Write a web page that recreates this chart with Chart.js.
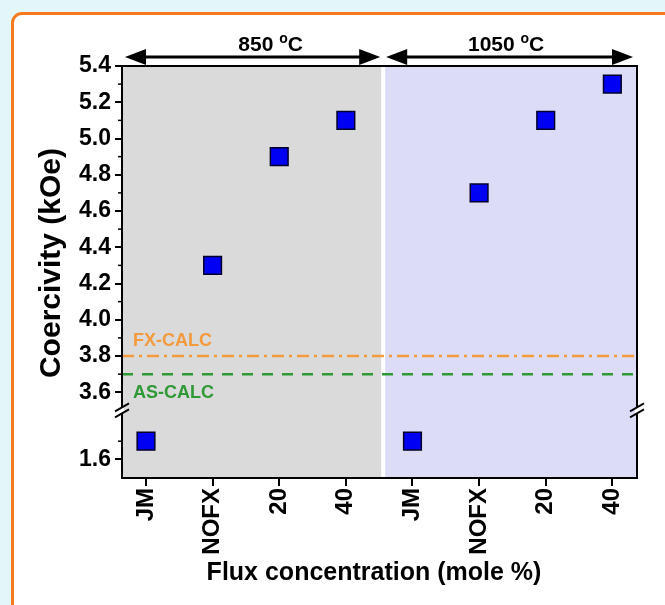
<!DOCTYPE html>
<html>
<head>
<meta charset="utf-8">
<script src="https://cdn.jsdelivr.net/npm/chart.js@4.4.1/dist/chart.umd.min.js"></script>
<style>
  html, body { margin: 0; padding: 0; overflow: hidden; }
  body { width: 665px; height: 605px; background: #e3f6fa; position: relative; }
  .card {
    position: absolute; left: 11px; top: 12px; width: 720px; height: 720px;
    background: #fff; border: 3px solid #f57b1e; border-radius: 11px;
  }
  #chart { position: absolute; left: 0; top: 0; }
</style>
</head>
<body>
<div class="card"></div>
<canvas id="chart" width="665" height="605"></canvas>
<script>
// Coercivity vs flux concentration, two calcination temperatures
const categories = ['JM', 'NOFX', '20', '40', 'JM', 'NOFX', '20', '40'];
const coercivity850 = [1.7, 4.3, 4.9, 5.1];
const coercivity1050 = [1.7, 4.7, 5.1, 5.3];
const yTickValues = [1.6, 3.6, 3.8, 4.0, 4.2, 4.4, 4.6, 4.8, 5.0, 5.2, 5.4];
const yMinorValues = [1.7, 3.7, 3.9, 4.1, 4.3, 4.5, 4.7, 4.9, 5.1, 5.3];
const fxCalc = 3.8;
const asCalc = 3.7;
const groupLabels = ['850', '1050'];

// broken axis: everything below the break is shifted up
const BREAK_AT = 3.5;
const BREAK_SHIFT = 1.63;
const toAxis = v => v < BREAK_AT ? v + BREAK_SHIFT : v;
const fromAxis = v => v < BREAK_AT ? v - BREAK_SHIFT : v;

const X_MIN = -0.36, X_MAX = 7.37, X_SPLIT = 3.56;
const FONT = '"Liberation Sans", Arial, sans-serif';

const points = coercivity850.concat(coercivity1050).map((v, i) => ({ x: i, y: toAxis(v) }));

const decorations = {
  id: 'decorations',
  beforeDraw(chart) {
    const { ctx, chartArea: a, scales: { x } } = chart;
    const split = x.getPixelForValue(X_SPLIT);
    ctx.save();
    ctx.fillStyle = '#dadada';
    ctx.fillRect(a.left, a.top, split - a.left, a.bottom - a.top);
    ctx.fillStyle = '#dcdcf7';
    ctx.fillRect(split, a.top, a.right - split, a.bottom - a.top);
    ctx.fillStyle = '#ffffff';
    ctx.fillRect(split - 2, a.top, 4, a.bottom - a.top);
    ctx.restore();
  },
  afterDraw(chart) {
    const { ctx, chartArea: a, scales: { x, y } } = chart;
    ctx.save();
    // frame
    ctx.strokeStyle = '#000';
    ctx.lineWidth = 2;
    ctx.strokeRect(a.left, a.top, a.right - a.left, a.bottom - a.top);

    // minor ticks on the left axis
    ctx.lineWidth = 1.5;
    yMinorValues.forEach(v => {
      const py = y.getPixelForValue(toAxis(v));
      ctx.beginPath();
      ctx.moveTo(a.left - 4, py);
      ctx.lineTo(a.left, py);
      ctx.stroke();
    });

    // axis break marks
    const by = y.getPixelForValue(BREAK_AT);
    [a.left, a.right].forEach(bx => {
      ctx.fillStyle = '#fff';
      ctx.fillRect(bx - 2, by - 3, 4, 6);
      ctx.strokeStyle = '#000';
      ctx.lineWidth = 1.8;
      [-3, 3].forEach(d => {
        ctx.beginPath();
        ctx.moveTo(bx - 7, by + d + 4);
        ctx.lineTo(bx + 7, by + d - 4);
        ctx.stroke();
      });
    });

    // temperature arrows
    const split = x.getPixelForValue(X_SPLIT);
    const arrowY = a.top - 9;
    const arrow = (x1, x2) => {
      ctx.strokeStyle = '#000';
      ctx.fillStyle = '#000';
      ctx.lineWidth = 3;
      ctx.beginPath();
      ctx.moveTo(x1 + 12, arrowY);
      ctx.lineTo(x2 - 12, arrowY);
      ctx.stroke();
      [[x1, 1], [x2, -1]].forEach(([px, dir]) => {
        ctx.beginPath();
        ctx.moveTo(px, arrowY);
        ctx.lineTo(px + dir * 21, arrowY - 8);
        ctx.lineTo(px + dir * 21, arrowY + 8);
        ctx.closePath();
        ctx.fill();
      });
    };
    arrow(a.left + 3, split - 3);
    arrow(split + 3, a.right - 4);

    const tempLabel = (txt, cx) => {
      ctx.fillStyle = '#000';
      ctx.textBaseline = 'alphabetic';
      ctx.textAlign = 'left';
      const big = 'bold 21px ' + FONT, small = 'bold 14px ' + FONT;
      ctx.font = big;
      const w1 = ctx.measureText(txt + ' ').width, w3 = ctx.measureText('C').width;
      ctx.font = small;
      const w2 = ctx.measureText('o').width;
      let sx = cx - (w1 + w2 + w3) / 2;
      const base = a.top - 15;
      ctx.font = big; ctx.fillText(txt + ' ', sx, base); sx += w1;
      ctx.font = small; ctx.fillText('o', sx, base - 8); sx += w2;
      ctx.font = big; ctx.fillText('C', sx, base);
    };
    tempLabel(groupLabels[0], (a.left + split) / 2 + 18);
    tempLabel(groupLabels[1], (split + a.right) / 2 - 4);

    // reference line labels
    ctx.font = 'bold 18px ' + FONT;
    ctx.textAlign = 'left';
    ctx.textBaseline = 'middle';
    ctx.fillStyle = '#f39a3c';
    ctx.fillText('FX-CALC', a.left + 11, y.getPixelForValue(fxCalc) - 15);
    ctx.fillStyle = '#2f9a35';
    ctx.fillText('AS-CALC', a.left + 11, y.getPixelForValue(asCalc) + 19);

    // axis titles
    ctx.fillStyle = '#000';
    ctx.font = 'bold 25px ' + FONT;
    ctx.textAlign = 'center';
    ctx.fillText('Flux concentration (mole %)', 374, 573);
    ctx.font = 'bold 30px ' + FONT;
    ctx.translate(52, 263);
    ctx.rotate(-Math.PI / 2);
    ctx.fillText('Coercivity (kOe)', 0, 0);
    ctx.restore();
  }
};

new Chart(document.getElementById('chart'), {
  type: 'scatter',
  data: {
    datasets: [
      {
        label: 'Coercivity',
        data: points,
        pointStyle: 'rect',
        pointRadius: 12.5,
        pointHoverRadius: 12.5,
        backgroundColor: '#0000f2',
        borderColor: '#00002a',
        borderWidth: 1.5,
        order: 0
      },
      {
        type: 'line',
        label: 'FX-CALC',
        data: [{ x: X_MIN, y: fxCalc }, { x: X_MAX, y: fxCalc }],
        borderColor: '#f39a3c',
        borderWidth: 2.5,
        borderDash: [12, 5, 3, 5],
        pointRadius: 0,
        order: 1
      },
      {
        type: 'line',
        label: 'AS-CALC',
        data: [{ x: X_MIN, y: asCalc }, { x: X_MAX, y: asCalc }],
        borderColor: '#2f9a35',
        borderWidth: 2.5,
        borderDash: [11, 9],
        pointRadius: 0,
        order: 1
      }
    ]
  },
  options: {
    responsive: false,
    animation: false,
    layout: { padding: { top: 66, right: 28, left: 0, bottom: 0 } },
    plugins: { legend: { display: false }, tooltip: { enabled: false } },
    scales: {
      x: {
        type: 'linear',
        min: X_MIN,
        max: X_MAX,
        afterBuildTicks: s => { s.ticks = categories.map((c, i) => ({ value: i })); },
        afterFit: s => { s.height = 127; },
        ticks: {
          autoSkip: false,
          maxRotation: 90,
          minRotation: 90,
          padding: 2,
          color: '#000',
          font: { family: FONT, size: 24, weight: 'bold' },
          callback: v => categories[v]
        },
        grid: { drawOnChartArea: false, color: '#000', lineWidth: 2, tickLength: 8 },
        border: { color: '#000', width: 2 }
      },
      y: {
        min: 3.127,
        max: 5.4,
        afterBuildTicks: s => { s.ticks = yTickValues.map(v => ({ value: toAxis(v) })); },
        afterFit: s => { s.width = 122; },
        ticks: {
          padding: 4,
          color: '#000',
          font: { family: FONT, size: 23, weight: 'bold' },
          callback: v => fromAxis(v).toFixed(1)
        },
        grid: { drawOnChartArea: false, color: '#000', lineWidth: 2, tickLength: 7 },
        border: { color: '#000', width: 2 }
      }
    }
  },
  plugins: [decorations]
});
</script>
</body>
</html>
